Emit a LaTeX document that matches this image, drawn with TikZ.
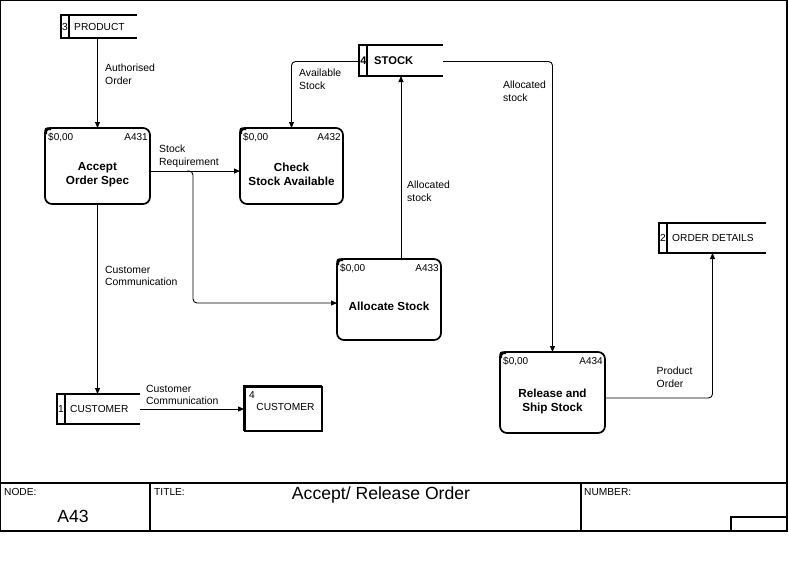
\documentclass[tikz,border=0pt]{standalone}
\usepackage{fontspec}
\setmainfont{Liberation Sans}
\usetikzlibrary{arrows.meta}
\begin{document}
\begin{tikzpicture}[x=1pt,y=-1pt,
 proc/.style={draw, line width=1.7pt, rounded corners=7pt, outer sep=0pt, inner sep=0pt},
 ptext/.style={font=\fontsize{11.7}{14.3}\selectfont\bfseries, align=center, inner sep=0pt},
 corner/.style={font=\fontsize{10}{12}\selectfont, inner sep=0pt},
 cmark/.style={line width=2.8pt},
 lbl/.style={font=\fontsize{10.4}{12.3}\selectfont, align=left, anchor=north west, inner sep=0pt},
 store/.style={rectangle, outer sep=0pt, inner sep=0pt},
 sline/.style={line width=1.7pt},
 flow/.style={draw, line width=0.9pt, -{Triangle[length=6pt,width=5pt]}},
 stext/.style={font=\fontsize{10.2}{12}\selectfont, inner sep=0pt},
 frame/.style={line width=1.2pt},
 ttext/.style={font=\fontsize{17.6}{20}\selectfont, inner sep=0pt},
]
\useasboundingbox (0,0) rectangle (789,571);
\fill[white] (0,0) rectangle (789,571);

% ---- frame and title block
\draw[frame] (0.6,0.6) rectangle (787,531);
\draw[frame] (0,483) -- (787,483);
\draw[frame] (150,483) -- (150,531);
\draw[frame] (581,483) -- (581,531);
\draw[frame] (731,531) -- (731,517) -- (787,517);
\node[stext, anchor=west] (tnode) at (4,492) {NODE:};
\node[stext, anchor=west] (ttitle) at (154,492) {TITLE:};
\node[stext, anchor=west] (tnum) at (584,492) {NUMBER:};
\node[ttext] (titletext) at (381,495) {Accept/ Release Order};
\node[ttext] (nodetext) at (73,516.5) {A43};

% ---- process boxes
\node[proc, minimum width=105pt, minimum height=76pt] (a431) at (97.5,166) {};
\node[proc, minimum width=103pt, minimum height=76pt] (a432) at (291.5,166) {};
\node[proc, minimum width=104pt, minimum height=81pt] (a433) at (389,299.5) {};
\node[proc, minimum width=105pt, minimum height=81pt] (a434) at (552.5,392.5) {};
\foreach \p/\c in {a431/A431,a432/A432,a433/A433,a434/A434}{
  \node[corner, anchor=north west] (\p cost) at ([shift={(3,5)}]\p.north west) {\$0,00};
  \node[corner, anchor=north east] (\p code) at ([shift={(-2,5)}]\p.north east) {\c};
  \draw[cmark] ([shift={(0.6,6)}]\p.north west) .. controls ([shift={(0.6,0.6)}]\p.north west) .. ([shift={(6,0.6)}]\p.north west);
}
\node[ptext] (a431t) at (97.5,175) {Accept\\Order Spec};
\node[ptext] (a432t) at (291.5,174) {Check\\Stock Available};
\node[ptext] (a433t) at (389,306) {Allocate Stock};
\node[ptext] (a434t) at (552.5,401.5) {Release and\\Ship Stock};

% ---- data stores
\node[store, minimum width=76pt, minimum height=23pt] (prod) at (99,26.5) {};
\node[store, minimum width=84pt, minimum height=31pt] (stock) at (401,60.5) {};
\node[store, minimum width=107pt, minimum height=30pt] (ord) at (712.5,238) {};
\node[store, minimum width=83pt, minimum height=30pt] (cust) at (98.5,409) {};
\foreach \s in {prod,stock,ord,cust}{
  \draw[sline] (\s.north east) -- (\s.north west) -- (\s.south west) -- (\s.south east);
  \draw[sline] ([xshift=8]\s.north west) -- ([xshift=8]\s.south west);
}
\node[stext] (prodnum) at ([xshift=4]prod.west) {3};
\node[stext, anchor=west] (prodname) at ([xshift=13]prod.west) {PRODUCT};
\node[stext, font=\fontsize{11}{13}\selectfont\bfseries] (stocknum) at ([xshift=4.5]stock.west) {4};
\node[stext, anchor=west, font=\fontsize{11.2}{13}\selectfont\bfseries] (stockname) at ([xshift=15]stock.west) {STOCK};
\node[stext] (ordnum) at ([xshift=4]ord.west) {2};
\node[stext, anchor=west] (ordname) at ([xshift=13]ord.west) {ORDER DETAILS};
\node[stext] (custnum) at ([xshift=4]cust.west) {1};
\node[stext, anchor=west] (custname) at ([xshift=13]cust.west) {CUSTOMER};

% ---- external entity
\node[store, minimum width=78pt, minimum height=45pt] (ext) at (283,408.5) {};
\draw[line width=1.2pt] (ext.north east) -- (ext.south east) -- (ext.south west);
\draw[line width=3pt] (ext.south west) -- (ext.north west) -- (ext.north east);
\node[stext, anchor=north west] (extnum) at ([shift={(5,5)}]ext.north west) {4};
\node[stext] (extname) at (285.5,407) {CUSTOMER};

% ---- connectors (canvas yshift is upward, so negative = down)
\draw[flow] (a431.north |- prod.south) -- (a431.north);
\draw[flow] ([yshift=-5]a431.east) -- ([yshift=-5]a432.west);
\coordinate (br) at (187,171);
\draw[flow, rounded corners=4pt] (br) -| (193,303) -- ([yshift=-3.5]a433.west);
\draw[flow] (a431.south) -- (a431.south |- cust.north);
\draw[flow] (cust.east) -- (ext.west |- cust.east);
\draw[flow, rounded corners=4pt] ([yshift=-1]stock.west) -| (a432.north);
\draw[flow] (a433.north -| stock.south) -- (stock.south);
\draw[flow, rounded corners=4pt] ([yshift=-1]stock.east) -| (a434.north);
\draw[flow, rounded corners=4pt] ([yshift=-5.5]a434.east) -| (ord.south);

% ---- connector labels
\node[lbl] (l1) at (105,64) {Authorised\\Order};
\node[lbl] (l2) at (159,145) {Stock\\Requirement};
\node[lbl] (l3) at (299,69) {Available\\Stock};
\node[lbl] (l4) at (105,266) {Customer\\Communication};
\node[lbl] (l5) at (146,385) {Customer\\Communication};
\node[lbl] (l6) at (407,181) {Allocated\\stock};
\node[lbl] (l7) at (503,81) {Allocated\\stock};
\node[lbl] (l8) at (656.5,367) {Product\\Order};
\end{tikzpicture}
\end{document}
